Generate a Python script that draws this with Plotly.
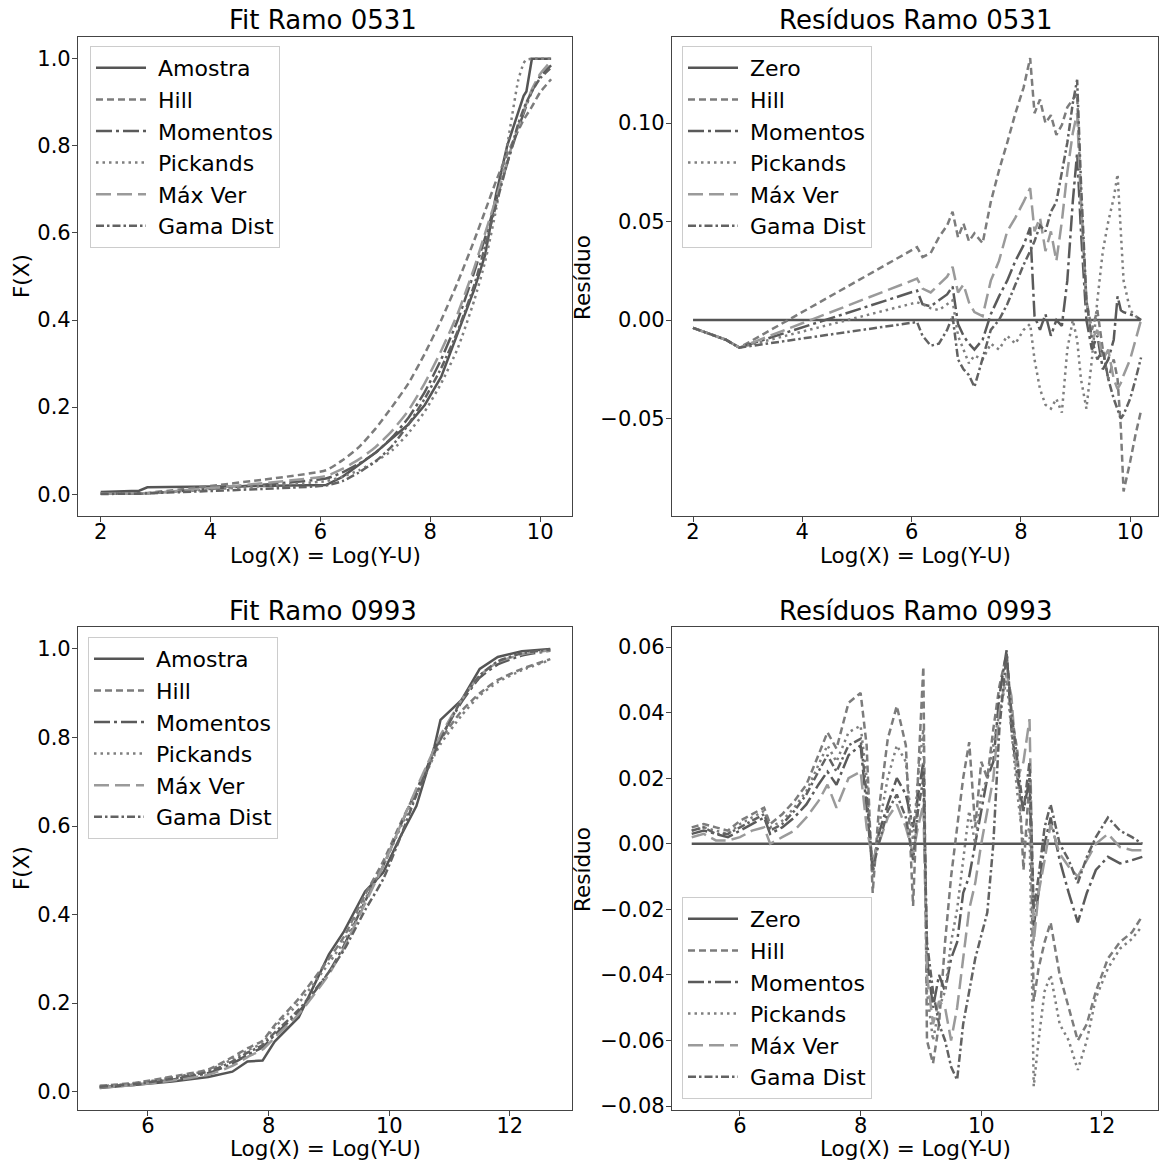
import plotly.graph_objects as go

# ---------------- DATA ----------------
series_names = ["Hill", "Momentos", "Pickands", "Máx Ver", "Gama Dist"]

# Fit Ramo 0531
xf_0531 = [2.0, 2.4, 2.7, 2.85, 6.1, 6.4, 6.7, 7.0, 7.3, 7.6, 7.9, 8.2, 8.5, 8.8, 9.0, 9.2, 9.4, 9.6, 9.7, 9.75, 9.85, 10.0, 10.2]
amostra_0531 = [0.005, 0.007, 0.008, 0.016, 0.021, 0.040, 0.068, 0.095, 0.128, 0.160, 0.205, 0.270, 0.370, 0.470, 0.550, 0.690, 0.800, 0.880, 0.915, 0.925, 1.0, 1.0, 1.0]
hill_0531 = [0.001, 0.002, 0.002, 0.003, 0.055, 0.078, 0.108, 0.150, 0.200, 0.254, 0.323, 0.400, 0.487, 0.583, 0.651, 0.720, 0.781, 0.835, 0.860, 0.870, 0.890, 0.923, 0.953]
momentos_0531 = [0.001, 0.001, 0.001, 0.002, 0.036, 0.050, 0.070, 0.095, 0.130, 0.175, 0.235, 0.310, 0.400, 0.510, 0.590, 0.675, 0.760, 0.840, 0.875, 0.893, 0.925, 0.960, 0.985]
pickands_0531 = [0.001, 0.001, 0.001, 0.002, 0.030, 0.040, 0.055, 0.075, 0.100, 0.140, 0.190, 0.255, 0.335, 0.445, 0.535, 0.655, 0.800, 0.950, 0.990, 0.998, 1.0, 1.0, 1.0]
maxver_0531 = [0.001, 0.001, 0.002, 0.002, 0.042, 0.058, 0.080, 0.108, 0.145, 0.192, 0.255, 0.330, 0.415, 0.520, 0.600, 0.680, 0.765, 0.845, 0.880, 0.897, 0.930, 0.965, 0.995]
gama_0531 = [0.0005, 0.001, 0.001, 0.002, 0.020, 0.030, 0.050, 0.075, 0.110, 0.160, 0.220, 0.290, 0.375, 0.480, 0.570, 0.665, 0.760, 0.850, 0.885, 0.900, 0.925, 0.955, 0.980]

# Resíduos Ramo 0531
xr_0531 = [2.0, 2.2, 2.4, 2.6, 2.85, 6.1, 6.2, 6.35, 6.5, 6.65, 6.75, 6.85, 6.95, 7.05, 7.15,
           7.3, 7.45, 7.6, 7.75, 7.9, 8.05, 8.17, 8.25, 8.35, 8.45, 8.55, 8.65, 8.75, 8.85, 8.95,
           9.03, 9.1, 9.2, 9.3, 9.4, 9.5, 9.6, 9.7, 9.77, 9.83, 9.88, 10.0, 10.1, 10.2]
zero_x_0531 = [2.0, 10.2]
zero_y_0531 = [0.0, 0.0]
rhill_0531 = [-0.004, -0.006, -0.008, -0.010, -0.014, 0.037, 0.032, 0.034, 0.042, 0.048,
              0.055, 0.042, 0.049, 0.040, 0.044, 0.039, 0.060, 0.076, 0.090, 0.105,
              0.118, 0.133, 0.105, 0.112, 0.100, 0.104, 0.094, 0.099, 0.108, 0.112,
              0.115, 0.060, 0.010, -0.005, 0.005, -0.015, -0.030, -0.020, -0.030, -0.055,
              -0.087, -0.072, -0.058, -0.046]
rmom_0531 = [-0.004, -0.006, -0.008, -0.010, -0.014, 0.015, 0.008, 0.007, 0.010, 0.013,
             0.017, -0.002, -0.008, -0.012, -0.015, -0.010, 0.003, 0.012, 0.020, 0.030,
             0.038, 0.047, 0.002, -0.005, 0.003, -0.008, 0.000, -0.003, 0.020, 0.060,
             0.085, 0.045, 0.000, -0.015, -0.008, -0.025, -0.020, -0.010, 0.012, 0.005,
             0.004, 0.003, 0.002, 0.000]
rpick_0531 = [-0.004, -0.006, -0.008, -0.010, -0.014, 0.009, 0.008, 0.006, 0.005, 0.008,
              0.010, -0.008, -0.015, -0.022, -0.018, -0.020, -0.012, -0.015, -0.008, -0.012,
              -0.005, -0.002, -0.020, -0.035, -0.043, -0.045, -0.040, -0.047, -0.015, 0.000,
              -0.010, -0.030, -0.045, -0.020, 0.010, 0.035, 0.050, 0.062, 0.074, 0.045,
              0.020, 0.005, 0.002, 0.000]
rmv_0531 = [-0.004, -0.006, -0.008, -0.010, -0.014, 0.021, 0.016, 0.014, 0.018, 0.022,
            0.027, 0.014, 0.018, 0.009, 0.004, 0.002, 0.020, 0.030, 0.045, 0.052,
            0.060, 0.067, 0.045, 0.052, 0.035, 0.045, 0.030, 0.050, 0.075, 0.095,
            0.105, 0.060, 0.010, -0.010, -0.005, -0.020, -0.015, -0.030, -0.035, -0.032,
            -0.028, -0.020, -0.010, 0.000]
rgama_0531 = [-0.004, -0.006, -0.008, -0.010, -0.014, -0.001, -0.008, -0.013, -0.012, -0.005,
              0.002, -0.020, -0.025, -0.028, -0.034, -0.020, -0.005, 0.000, 0.008, 0.018,
              0.028, 0.035, 0.040, 0.048, 0.045, 0.055, 0.060, 0.075, 0.090, 0.110,
              0.122, 0.070, 0.010, -0.010, -0.020, -0.015, -0.030, -0.040, -0.045, -0.050,
              -0.048, -0.040, -0.030, -0.019]

# Fit Ramo 0993
xf_0993 = [5.2, 5.8, 6.4, 7.0, 7.4, 7.65, 7.9, 8.1, 8.5, 9.0, 9.25, 9.6, 9.9, 10.2, 10.45, 10.75, 10.85, 11.2, 11.5, 11.8, 12.2, 12.67]
amostra_0993 = [0.008, 0.015, 0.023, 0.033, 0.045, 0.068, 0.070, 0.113, 0.168, 0.310, 0.362, 0.452, 0.495, 0.580, 0.645, 0.780, 0.840, 0.885, 0.955, 0.982, 0.995, 1.0]
hill_0993 = [0.013, 0.020, 0.034, 0.050, 0.078, 0.098, 0.115, 0.150, 0.210, 0.300, 0.350, 0.445, 0.520, 0.610, 0.680, 0.770, 0.795, 0.860, 0.900, 0.930, 0.955, 0.977]
momentos_0993 = [0.010, 0.016, 0.027, 0.042, 0.063, 0.083, 0.100, 0.128, 0.180, 0.270, 0.330, 0.430, 0.510, 0.605, 0.680, 0.770, 0.800, 0.880, 0.935, 0.965, 0.985, 0.996]
pickands_0993 = [0.012, 0.019, 0.032, 0.048, 0.073, 0.093, 0.110, 0.145, 0.200, 0.290, 0.340, 0.435, 0.510, 0.600, 0.670, 0.760, 0.785, 0.850, 0.895, 0.925, 0.952, 0.975]
maxver_0993 = [0.009, 0.015, 0.025, 0.038, 0.058, 0.078, 0.095, 0.122, 0.175, 0.265, 0.325, 0.425, 0.510, 0.605, 0.685, 0.775, 0.805, 0.885, 0.940, 0.970, 0.988, 0.997]
gama_0993 = [0.011, 0.017, 0.029, 0.045, 0.068, 0.088, 0.105, 0.133, 0.185, 0.270, 0.320, 0.410, 0.480, 0.580, 0.670, 0.765, 0.795, 0.885, 0.940, 0.972, 0.990, 0.999]

# Resíduos Ramo 0993
xr_0993 = [5.2, 5.4, 5.6, 5.8, 6.0, 6.2, 6.4, 6.5, 6.7, 6.9, 7.1, 7.3, 7.45, 7.6, 7.8,
           8.0, 8.1, 8.2, 8.3, 8.45, 8.6, 8.75, 8.87, 8.95, 9.04, 9.1, 9.2, 9.3, 9.4, 9.5,
           9.6, 9.7, 9.8, 9.9, 10.0, 10.1, 10.2, 10.3, 10.42, 10.5, 10.6, 10.7, 10.8, 10.87, 10.95,
           11.05, 11.15, 11.3, 11.45, 11.6, 11.75, 11.9, 12.1, 12.3, 12.5, 12.67]
zero_x_0993 = [5.2, 12.67]
zero_y_0993 = [0.0, 0.0]
rhill_0993 = [0.005, 0.006, 0.005, 0.004, 0.007, 0.009, 0.011, 0.006, 0.009, 0.013,
              0.018, 0.027, 0.034, 0.029, 0.043, 0.046, 0.030, -0.015, 0.010, 0.032,
              0.042, 0.030, -0.019, 0.020, 0.054, -0.060, -0.067, -0.055, -0.030, -0.010,
              0.005, 0.020, 0.031, 0.005, 0.025, 0.020, 0.035, 0.048, 0.058, 0.040,
              0.028, -0.008, 0.020, -0.048, -0.038, -0.030, -0.024, -0.040, -0.050, -0.060,
              -0.055, -0.045, -0.035, -0.030, -0.027, -0.022]
rmom_0993 = [0.003, 0.004, 0.003, 0.002, 0.004, 0.006, 0.008, 0.003, 0.005, 0.008,
             0.012, 0.018, 0.022, 0.018, 0.027, 0.030, 0.010, -0.008, 0.003, 0.012,
             0.020, 0.015, 0.005, 0.015, 0.025, -0.035, -0.050, -0.040, -0.045, -0.035,
             -0.030, -0.015, -0.010, 0.000, 0.010, 0.020, 0.025, 0.045, 0.059, 0.035,
             0.020, 0.010, 0.020, -0.025, -0.015, 0.000, 0.008, -0.005, -0.015, -0.024,
             -0.015, -0.008, -0.004, -0.006, -0.005, -0.004]
rpick_0993 = [0.004, 0.005, 0.004, 0.003, 0.006, 0.008, 0.010, 0.005, 0.007, 0.011,
              0.016, 0.024, 0.030, 0.025, 0.034, 0.036, 0.020, -0.010, 0.005, 0.020,
              0.030, 0.025, 0.000, 0.020, 0.035, -0.045, -0.060, -0.050, -0.045, -0.030,
              -0.020, -0.005, 0.010, 0.000, 0.015, 0.020, 0.030, 0.040, 0.050, 0.035,
              0.015, 0.000, 0.005, -0.074, -0.060, -0.045, -0.040, -0.055, -0.060, -0.069,
              -0.060, -0.047, -0.038, -0.032, -0.029, -0.025]
rmv_0993 = [0.002, 0.003, 0.001, 0.001, 0.002, 0.004, 0.005, 0.000, 0.002, 0.004,
            0.008, 0.013, 0.018, 0.011, 0.020, 0.022, 0.005, -0.005, 0.000, 0.008,
            0.012, 0.005, -0.003, 0.005, 0.012, -0.040, -0.055, -0.048, -0.050, -0.060,
            -0.050, -0.035, -0.020, -0.012, 0.000, 0.010, 0.020, 0.040, 0.052, 0.045,
            0.020, 0.025, 0.038, -0.030, -0.015, -0.005, 0.006, -0.003, -0.007, -0.010,
            -0.005, 0.000, 0.003, -0.001, -0.002, -0.002]
rgama_0993 = [0.004, 0.005, 0.003, 0.003, 0.005, 0.007, 0.009, 0.004, 0.006, 0.010,
              0.015, 0.022, 0.027, 0.022, 0.030, 0.032, 0.015, -0.008, 0.000, 0.010,
              0.015, 0.008, -0.005, 0.010, 0.020, -0.030, -0.045, -0.055, -0.060, -0.068,
              -0.072, -0.055, -0.045, -0.035, -0.028, -0.021, 0.000, 0.035, 0.058, 0.040,
              0.025, 0.010, 0.025, -0.020, -0.010, 0.005, 0.012, 0.000, -0.005, -0.012,
              -0.004, 0.002, 0.008, 0.004, 0.002, 0.000]

# Tick labels
f_ticks = [0.0, 0.2, 0.4, 0.6, 0.8, 1.0]
f_ticktext = ["0.0", "0.2", "0.4", "0.6", "0.8", "1.0"]
x_ticks_0531 = [2, 4, 6, 8, 10]
x_ticks_0993 = [6, 8, 10, 12]
r_ticks_0531 = [-0.05, 0.0, 0.05, 0.10]
r_ticktext_0531 = ["\u22120.05", "0.00", "0.05", "0.10"]
r_ticks_0993 = [-0.08, -0.06, -0.04, -0.02, 0.0, 0.02, 0.04, 0.06]
r_ticktext_0993 = ["\u22120.08", "\u22120.06", "\u22120.04", "\u22120.02", "0.00", "0.02", "0.04", "0.06"]

# ---------------- STYLE ----------------
W = 1162
REF_H = 1166          # reference picture height (layout measured in it)
H = 1174              # page height of the figure
FONT = "DejaVu Sans"
LW = 2.5
NB = "\u00a0"
styles = {
    "Amostra": dict(color="#555555", dash="solid"),
    "Zero": dict(color="#555555", dash="solid"),
    "Hill": dict(color="#7c7c7c", dash="7px,4px"),
    "Momentos": dict(color="#5a5a5a", dash="16px,4px,3px,4px"),
    "Pickands": dict(color="#7f7f7f", dash="2.5px,4px"),
    "Máx Ver": dict(color="#9a9a9a", dash="15px,6px"),
    "Gama Dist": dict(color="#626262", dash="8px,3px,2.5px,3px"),
}

fig = go.Figure()


def add(x, y, name, xa, ya, legend, panel, smooth=False):
    st = styles[name]
    line = dict(color=st["color"], dash=st["dash"], width=LW)
    if smooth:
        line["shape"] = "spline"
        line["smoothing"] = 0.5
    fig.add_trace(go.Scatter(x=x, y=y, mode="lines", name=NB + name, line=line,
                             xaxis=xa, yaxis=ya, legend=legend,
                             legendgroup=panel + name, showlegend=True))


# Panel 1
add(xf_0531, amostra_0531, "Amostra", "x", "y", "legend", "p1")
for nm, arr in zip(series_names, [hill_0531, momentos_0531, pickands_0531, maxver_0531, gama_0531]):
    add(xf_0531, arr, nm, "x", "y", "legend", "p1", smooth=True)
# Panel 2
add(zero_x_0531, zero_y_0531, "Zero", "x2", "y2", "legend2", "p2")
for nm, arr in zip(series_names, [rhill_0531, rmom_0531, rpick_0531, rmv_0531, rgama_0531]):
    add(xr_0531, arr, nm, "x2", "y2", "legend2", "p2")
# Panel 3
add(xf_0993, amostra_0993, "Amostra", "x3", "y3", "legend3", "p3")
for nm, arr in zip(series_names, [hill_0993, momentos_0993, pickands_0993, maxver_0993, gama_0993]):
    add(xf_0993, arr, nm, "x3", "y3", "legend3", "p3", smooth=True)
# Panel 4
add(zero_x_0993, zero_y_0993, "Zero", "x4", "y4", "legend4", "p4")
for nm, arr in zip(series_names, [rhill_0993, rmom_0993, rpick_0993, rmv_0993, rgama_0993]):
    add(xr_0993, arr, nm, "x4", "y4", "legend4", "p4")


def axis(domain_px, rng, tickvals, ticktext=None, horizontal=True, anchor=None):
    if horizontal:
        dom = [domain_px[0] / W, domain_px[1] / W]
    else:
        dom = [1 - domain_px[1] / REF_H, 1 - domain_px[0] / REF_H]
    d = dict(domain=dom, range=rng, tickvals=tickvals, showgrid=False, zeroline=False,
             showline=True, mirror=True, linecolor="#444444", linewidth=1.2,
             ticks="outside", ticklen=5, tickwidth=1.2, tickcolor="#444444",
             tickfont=dict(family=FONT, size=21, color="#000000"), anchor=anchor,
             ticklabelstandoff=-8 if horizontal else -3,
             fixedrange=True)
    if ticktext is not None:
        d["ticktext"] = ticktext
    return d


L1, R1 = 78, 572
L2, R2 = 672, 1158
T1, B1 = 37, 516
T2, B2 = 627, 1110

layout = dict(
    width=W, height=H, margin=dict(l=0, r=0, t=0, b=0),
    paper_bgcolor="white", plot_bgcolor="white",
    font=dict(family=FONT, color="#000000"),
    xaxis=axis((L1, R1), [1.587, 10.58], x_ticks_0531, anchor="y"),
    yaxis=axis((T1, B1), [-0.05, 1.05], f_ticks, f_ticktext, horizontal=False, anchor="x"),
    xaxis2=axis((L2, R2), [1.615, 10.51], x_ticks_0531, anchor="y2"),
    yaxis2=axis((T1, B1), [-0.0995, 0.1437], r_ticks_0531, r_ticktext_0531, horizontal=False, anchor="x2"),
    xaxis3=axis((L1, R1), [4.84, 13.03], x_ticks_0993, anchor="y3"),
    yaxis3=axis((T2, B2), [-0.0416, 1.0496], f_ticks, f_ticktext, horizontal=False, anchor="x3"),
    xaxis4=axis((L2, R2), [4.873, 12.93], x_ticks_0993, anchor="y4"),
    yaxis4=axis((T2, B2), [-0.0812, 0.0661], r_ticks_0993, r_ticktext_0993, horizontal=False, anchor="x4"),
)


def legend_cfg(xpx, ypx):
    return dict(x=xpx / W, y=1 - ypx / REF_H, xanchor="left", yanchor="top",
                bgcolor="rgba(255,255,255,0.85)", bordercolor="#cccccc", borderwidth=1,
                font=dict(family=FONT, size=22, color="#000000"),
                itemwidth=50, tracegroupgap=2, traceorder="normal")


layout["legend"] = legend_cfg(90, 46)
layout["legend2"] = legend_cfg(682, 46)
layout["legend3"] = legend_cfg(88, 637)
layout["legend4"] = legend_cfg(682, 897)

annotations = []


def text(x, y, s, size, angle=0):
    annotations.append(dict(x=x / W, y=1 - y / REF_H, xref="paper", yref="paper", text=s,
                            showarrow=False, xanchor="center", yanchor="middle",
                            textangle=angle, font=dict(family=FONT, size=size, color="#000000")))


text(323, 20, "Fit Ramo 0531", 26)
text(915, 20, "Resíduos Ramo 0531", 26)
text(323, 611, "Fit Ramo 0993", 26)
text(915, 611, "Resíduos Ramo 0993", 26)
for yy in (555, 1148):
    text(325, yy, "Log(X) = Log(Y-U)", 21.5)
    text(915, yy, "Log(X) = Log(Y-U)", 21.5)
text(21, 276, "F(X)", 21.5, -90)
text(21, 868, "F(X)", 21.5, -90)
text(582, 278, "Resíduo", 21.5, -90)
text(582, 870, "Resíduo", 21.5, -90)
layout["annotations"] = annotations

fig.update_layout(**layout)
fig.write_html("out.html", config={"displayModeBar": False},
               post_script="document.body.style.margin='0px';document.body.style.overflow='hidden';")
